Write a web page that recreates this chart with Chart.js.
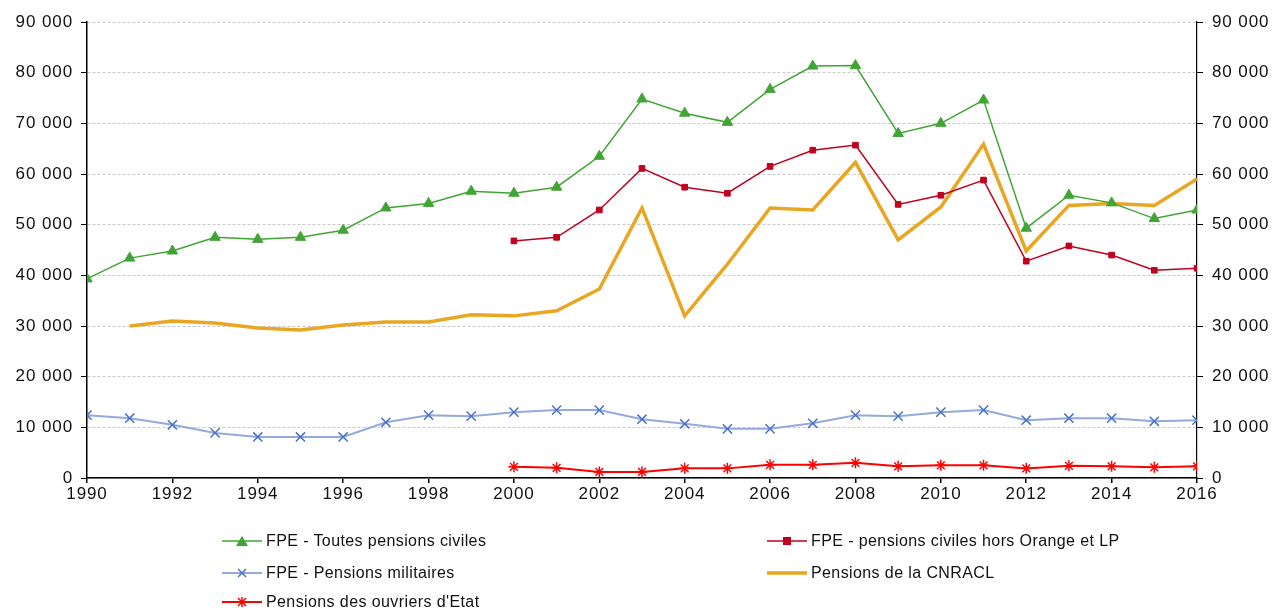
<!DOCTYPE html>
<html>
<head>
<meta charset="utf-8">
<script src="https://cdn.jsdelivr.net/npm/chart.js"></script>
<style>
  body { margin: 0; background: #fff; font-family: "Liberation Sans", Arial, sans-serif; }
  #wrap { position: relative; width: 1276px; height: 609px; overflow: hidden; }
  .leg { position: absolute; display: flex; align-items: center; font-size: 16px; letter-spacing: 0.4px; color: #111; white-space: nowrap; }
  .leg svg { margin-right: 4px; }
</style>
</head>
<body>
<div id="wrap">
  <canvas id="myChart"></canvas>
  <div id="legend"></div>
</div>
<script>
const years = [1990,1991,1992,1993,1994,1995,1996,1997,1998,1999,2000,2001,2002,2003,2004,2005,2006,2007,2008,2009,2010,2011,2012,2013,2014,2015,2016];

const civiles = [39300,43400,44800,47500,47100,47500,48900,53300,54200,56600,56200,57400,63500,74800,72000,70200,76700,81300,81400,68000,70000,74600,49300,55800,54300,51200,52900];
const horsOrange = [null,null,null,null,null,null,null,null,null,null,46800,47500,52900,61100,57400,56200,61500,64700,65700,54000,55800,58800,42800,45800,44000,41000,41400];
const militaires = [12400,11800,10500,8900,8100,8100,8100,11000,12400,12200,13000,13400,13400,11600,10700,9700,9700,10800,12400,12200,13000,13400,11400,11800,11800,11200,11400];
const cnracl = [null,30000,31000,30600,29600,29200,30200,30800,30800,32200,32000,33000,37300,53300,32000,42200,53300,52900,62300,47000,53500,65900,44800,53800,54200,53800,59000];
const ouvriers = [null,null,null,null,null,null,null,null,null,null,2200,2000,1200,1200,1900,1900,2600,2600,3000,2300,2500,2500,1900,2400,2300,2100,2300];

const yTicks = [0,10000,20000,30000,40000,50000,60000,70000,80000,90000];

function pts(vals) {
  return years.map((y, i) => ({ x: y, y: vals[i] }));
}

function fmt(v) {
  return String(v).replace(/\B(?=(\d{3})+(?!\d))/g, ' ');
}

const series = [
  { label: 'FPE - Toutes pensions civiles', data: pts(civiles), borderColor: '#41a535', backgroundColor: '#41a535',
    borderWidth: 1.5, pointStyle: 'triangle', pointRadius: 6, pointBorderWidth: 1 },
  { label: 'FPE - pensions civiles hors Orange et LP', data: pts(horsOrange), borderColor: '#c0001e', backgroundColor: '#c0001e',
    borderWidth: 1.5, pointStyle: 'rect', pointRadius: 4, pointBorderWidth: 1 },
  { label: 'FPE - Pensions militaires', data: pts(militaires), borderColor: '#92aadc', backgroundColor: '#4a72c8',
    borderWidth: 2, pointStyle: 'crossRot', pointRadius: 6.5, pointBorderColor: '#4a72c8', pointBorderWidth: 1.5 },
  { label: 'Pensions de la CNRACL', data: pts(cnracl), borderColor: '#e9a623', backgroundColor: '#e9a623',
    borderWidth: 3.5, pointRadius: 0 },
  { label: "Pensions des ouvriers d'Etat", data: pts(ouvriers), borderColor: '#ff0000', backgroundColor: '#ff0000',
    borderWidth: 2, pointStyle: 'star', pointRadius: 5.5, pointBorderWidth: 1.5 }
];

const tickFont = { family: '"Liberation Sans", Arial, sans-serif', size: 17 };

// a little extra letter spacing on the axis labels, like the original
const spacing = {
  id: 'spacing',
  beforeDraw(chart) { chart.ctx.letterSpacing = '0.9px'; },
  afterDraw(chart) { chart.ctx.letterSpacing = '0px'; }
};

const config = {
  type: 'line',
  data: { datasets: series.map(s => Object.assign({ fill: false, tension: 0, spanGaps: false }, s)) },
  options: {
    responsive: false,
    animation: false,
    layout: { padding: { top: 22, bottom: 109, left: 0, right: 0 } },
    plugins: { legend: { display: false }, tooltip: { enabled: false } },
    scales: {
      x: {
        type: 'linear', min: 1990, max: 2016,
        afterFit: (s) => { s.height = 22; },
        ticks: { stepSize: 2, color: '#111', font: tickFont, padding: 1, maxRotation: 0, callback: v => String(v) },
        grid: { drawOnChartArea: false, tickLength: 5, tickColor: '#000', lineWidth: 1.5 },
        border: { color: '#000', width: 1.5 }
      },
      y: {
        position: 'left', min: 0, max: 90000,
        afterFit: (s) => { s.width = 87; },
        afterBuildTicks: (s) => { s.ticks = yTicks.map(v => ({ value: v })); },
        ticks: { color: '#111', font: tickFont, padding: 8, callback: v => fmt(v) },
        grid: { color: '#c8c8c8', lineWidth: 1, tickColor: '#000', tickLength: 6 },
        border: { color: '#000', width: 1.5, dash: [3, 2] }
      },
      y2: {
        position: 'right', min: 0, max: 90000,
        afterFit: (s) => { s.width = 79; },
        afterBuildTicks: (s) => { s.ticks = yTicks.map(v => ({ value: v })); },
        ticks: { color: '#111', font: tickFont, padding: 9, callback: v => fmt(v) },
        grid: { drawOnChartArea: false, tickColor: '#000', tickLength: 6 },
        border: { color: '#000', width: 1.2 }
      }
    }
  },
  plugins: [spacing]
};

const canvas = document.getElementById('myChart');
canvas.width = 1276;
canvas.height = 609;
canvas.style.width = '1276px';
canvas.style.height = '609px';
const myChart = new Chart(canvas, config);

// legend (two columns, like the original)
const legendPos = [[222, 541], [767, 541], [222, 573], [767, 573], [222, 602]];
function markerSvg(s) {
  const c = s.borderColor, m = s.backgroundColor;
  let mark = '';
  if (s.pointStyle === 'triangle') mark = `<polygon points="20,2 26,12 14,12" fill="${m}"/>`;
  else if (s.pointStyle === 'rect') mark = `<rect x="16" y="3" width="8" height="8" fill="${m}"/>`;
  else if (s.pointStyle === 'crossRot') mark = `<path d="M16,3 L24,11 M24,3 L16,11" stroke="${m}" stroke-width="1.5"/>`;
  else if (s.pointStyle === 'star') mark = `<path d="M16,3 L24,11 M24,3 L16,11 M20,2 L20,12 M15,7 L25,7" stroke="${m}" stroke-width="1.5"/>`;
  return `<svg width="40" height="14"><line x1="0" y1="7" x2="40" y2="7" stroke="${c}" stroke-width="${s.borderWidth}"/>${mark}</svg>`;
}
const legend = document.getElementById('legend');
series.forEach((s, i) => {
  const d = document.createElement('div');
  d.className = 'leg';
  d.style.left = legendPos[i][0] + 'px';
  d.style.top = (legendPos[i][1] - 9) + 'px';
  d.innerHTML = markerSvg(s) + '<span>' + s.label + '</span>';
  legend.appendChild(d);
});
</script>
</body>
</html>
